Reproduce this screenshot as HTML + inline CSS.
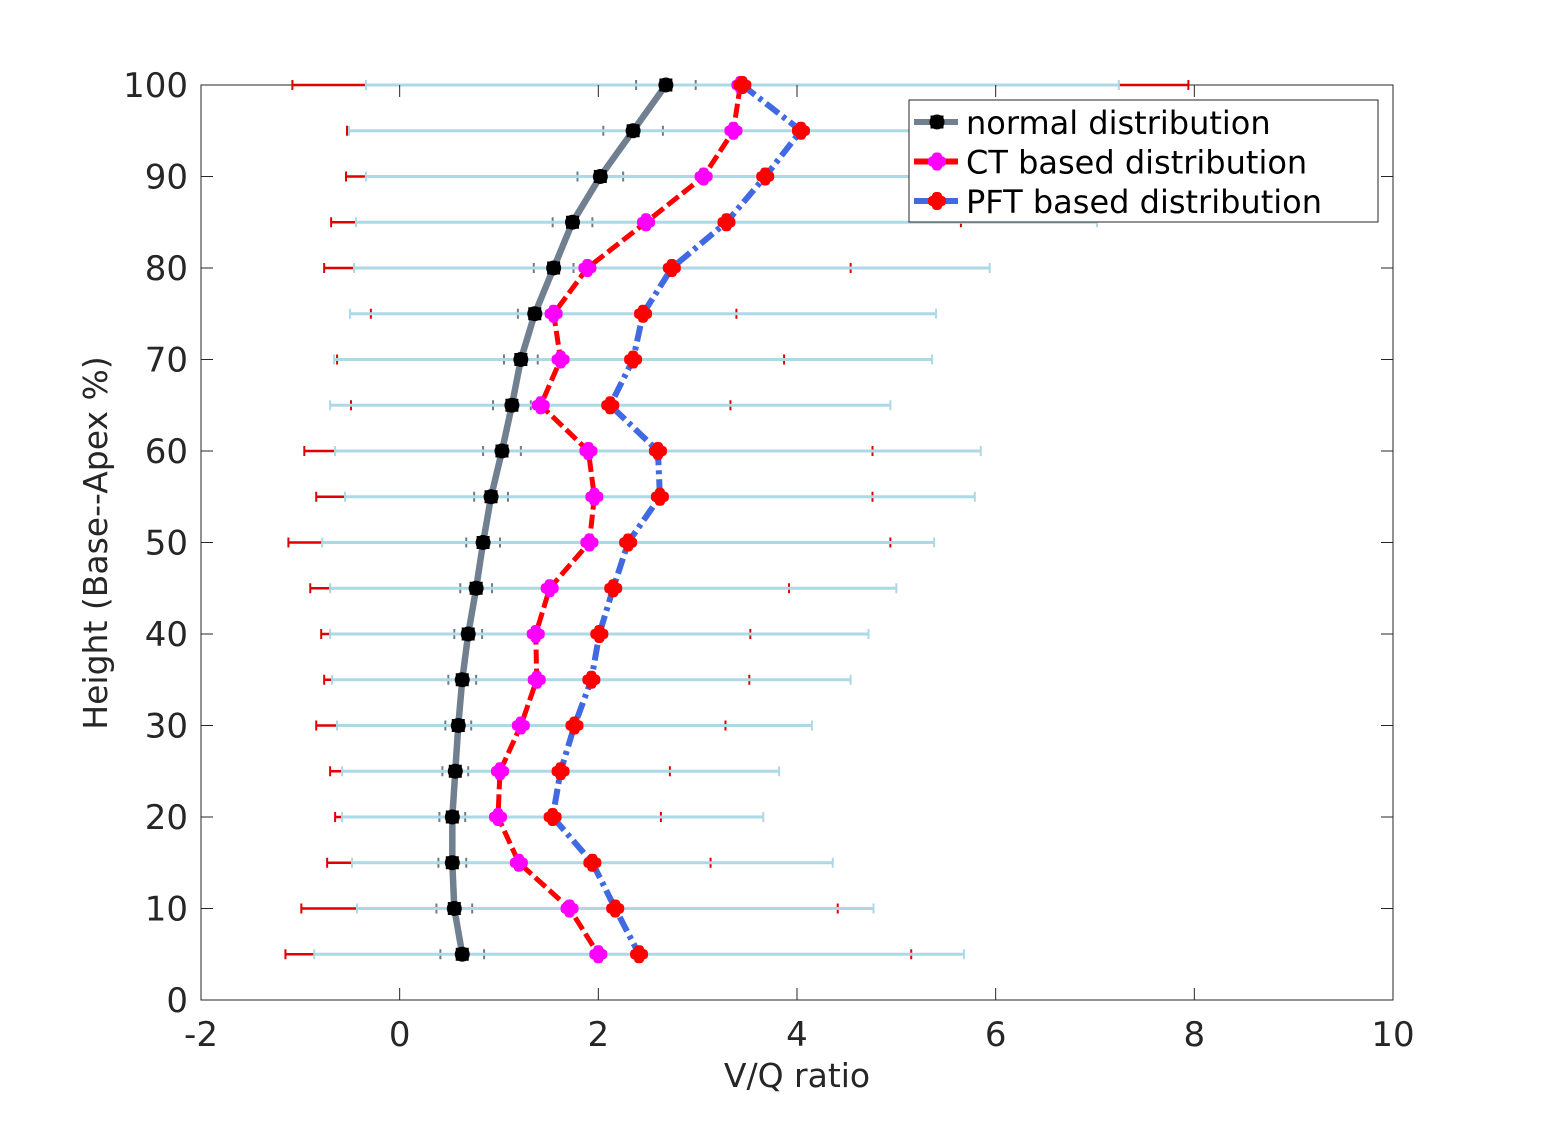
<!DOCTYPE html>
<html><head><meta charset="utf-8"><style>
html,body{margin:0;padding:0;background:#fff;}
svg{display:block;font-family:"DejaVu Sans","Liberation Sans",sans-serif;}
</style></head><body>
<svg id="chart" width="1541" height="1125" viewBox="0 0 1541 1125">
<rect x="0" y="0" width="1541" height="1125" fill="#fff"/>
<g id="bars"></g>
<g id="lines"></g>
<g id="axes"></g>
<g id="legend"></g>
</svg>
<script>
const heights = [100,95,90,85,80,75,70,65,60,55,50,45,40,35,30,25,20,15,10,5];
const normalMean = [2.68,2.35,2.02,1.74,1.55,1.36,1.22,1.13,1.03,0.92,0.84,0.77,0.69,0.63,0.59,0.56,0.53,0.53,0.55,0.63];
const normalErr = [0.3,0.3,0.23,0.2,0.2,0.17,0.17,0.19,0.19,0.17,0.17,0.16,0.14,0.14,0.13,0.13,0.13,0.14,0.18,0.22];
const ctMean = [3.43,3.36,3.06,2.48,1.89,1.55,1.62,1.42,1.90,1.96,1.91,1.51,1.37,1.38,1.22,1.01,0.99,1.20,1.71,2.00];
const ctErr = [4.51,3.89,3.60,3.17,2.65,1.84,2.25,1.91,2.86,2.80,3.03,2.41,2.16,2.14,2.06,1.71,1.64,1.93,2.70,3.15];
const pftMean = [3.45,4.04,3.68,3.29,2.74,2.45,2.35,2.12,2.60,2.62,2.30,2.15,2.01,1.93,1.76,1.62,1.54,1.94,2.17,2.41];
const pftErr = [3.79,4.55,4.02,3.73,3.20,2.95,3.01,2.82,3.25,3.17,3.08,2.85,2.71,2.61,2.39,2.20,2.12,2.42,2.60,3.27];
const xTicks = [-2,0,2,4,6,8,10];
const yTicks = [0,10,20,30,40,50,60,70,80,90,100];

const X0=201,X1=1393,Y0=1000,Y1=85;
const xs = v => X0 + (v - (-2)) / 12 * (X1 - X0);
const ys = v => Y0 - v / 100 * (Y0 - Y1);
const NS='http://www.w3.org/2000/svg';
function mk(tag, attrs, parent){const e=document.createElementNS(NS,tag);for(const k in attrs)e.setAttribute(k,attrs[k]);parent.appendChild(e);return e;}
const bars=document.getElementById('bars'), lines=document.getElementById('lines'), axes=document.getElementById('axes'), legend=document.getElementById('legend');

mk('rect',{x:X0,y:Y1,width:X1-X0,height:Y0-Y1,fill:'none',stroke:'#262626','stroke-width':1},bars);

function errbar(mean, err, h, color, w, cap, name){
  const y=ys(h), a=xs(mean-err), b=xs(mean+err);
  const g=mk('g',{},bars);
  
  
  mk('line',{x1:a,y1:y,x2:b,y2:y,stroke:color,'stroke-width':w},g);
  mk('line',{x1:a,y1:y-cap,x2:a,y2:y+cap,stroke:color,'stroke-width':2},g);
  mk('line',{x1:b,y1:y-cap,x2:b,y2:y+cap,stroke:color,'stroke-width':2},g);
}
heights.forEach((h,i)=>errbar(normalMean[i],normalErr[i],h,'#6e7b87',2,5,'normal-error-bar'));
heights.forEach((h,i)=>errbar(ctMean[i],ctErr[i],h,'#e00000',2.5,5,'ct-error-bar'));
heights.forEach((h,i)=>errbar(pftMean[i],pftErr[i],h,'#add8e6',3,5,'pft-error-bar'));

function series(vals, color, w, dash, name){
  const p=mk('polyline',{points:heights.map((h,i)=>xs(vals[i])+','+ys(h)).join(' '),fill:'none',stroke:color,'stroke-width':w,'stroke-dasharray':dash,'stroke-linejoin':'round'},lines);
  
  
}
function plusMarker(cx,cy,color,parent){
  const g=mk('g',{},parent);
  mk('rect',{x:cx-9,y:cy-5,width:18,height:10,rx:4,fill:color},g);
  mk('rect',{x:cx-5,y:cy-9,width:10,height:18,rx:4,fill:color},g);
  mk('circle',{cx:cx,cy:cy,r:7.5,fill:color},g);
  return g;
}
function starMarker(cx,cy,parent){
  const g=mk('g',{},parent);
  mk('rect',{x:cx-6.5,y:cy-6.5,width:13,height:13,fill:'#000'},g);
  mk('circle',{cx:cx,cy:cy,r:7.5,fill:'#000'},g);
  return g;
}
series(normalMean,'#708090',6.5,'','normal-line');
series(ctMean,'#ff0000',5,'14 5','ct-line');
series(pftMean,'#4169e1',6,'16 5 4 5','pft-line');
heights.forEach((h,i)=>{const m=starMarker(xs(normalMean[i]),ys(h),lines);
  
  });
heights.forEach((h,i)=>{const m=plusMarker(xs(ctMean[i]),ys(h),'#ff00ff',lines);
  
  });
heights.forEach((h,i)=>{const m=plusMarker(xs(pftMean[i]),ys(h),'#ff0000',lines);
  
  });

xTicks.forEach(t=>{
  const x=xs(t);
  mk('line',{x1:x,y1:Y0,x2:x,y2:Y0-12,stroke:'#262626','stroke-width':1},axes);
  mk('line',{x1:x,y1:Y1,x2:x,y2:Y1+12,stroke:'#262626','stroke-width':1},axes);
  const tx=mk('text',{x:x,y:1046,'text-anchor':'middle','font-size':34,fill:'#262626'},axes);
  tx.textContent=String(t);
  
  
});
yTicks.forEach(t=>{
  const y=ys(t);
  mk('line',{x1:X0,y1:y,x2:X0+12,y2:y,stroke:'#262626','stroke-width':1},axes);
  mk('line',{x1:X1,y1:y,x2:X1-12,y2:y,stroke:'#262626','stroke-width':1},axes);
  const tx=mk('text',{x:188,y:y+12,'text-anchor':'end','font-size':34,fill:'#262626'},axes);
  tx.textContent=String(t);
  
  
});
const xl=mk('text',{x:797,y:1087,'text-anchor':'middle','font-size':33,fill:'#262626'},axes);
xl.textContent='V/Q ratio';


const yl=mk('text',{x:0,y:0,'text-anchor':'middle','font-size':33,fill:'#262626',transform:'translate(107,543) rotate(-90)'},axes);
yl.textContent='Height (Base--Apex %)';



mk('rect',{x:909,y:100,width:469,height:122,fill:'#fff',stroke:'#262626','stroke-width':1},legend);
const entries=[['normal distribution','#708090',''],['CT based distribution','#ff0000','#ff00ff'],['PFT based distribution','#4169e1','#ff0000']];
entries.forEach((e,i)=>{
  const y=122+i*39.5;
  const g=mk('g',{},legend);
  
  
  mk('line',{x1:914,y1:y,x2:958,y2:y,stroke:e[1],'stroke-width':6},g);
  if(i===0) starMarker(937,y,g); else plusMarker(937,y,e[2],g);
  const t=mk('text',{x:966,y:y+12,'font-size':32,fill:'#000'},g);
  t.textContent=e[0];
});
</script>
</body></html>
